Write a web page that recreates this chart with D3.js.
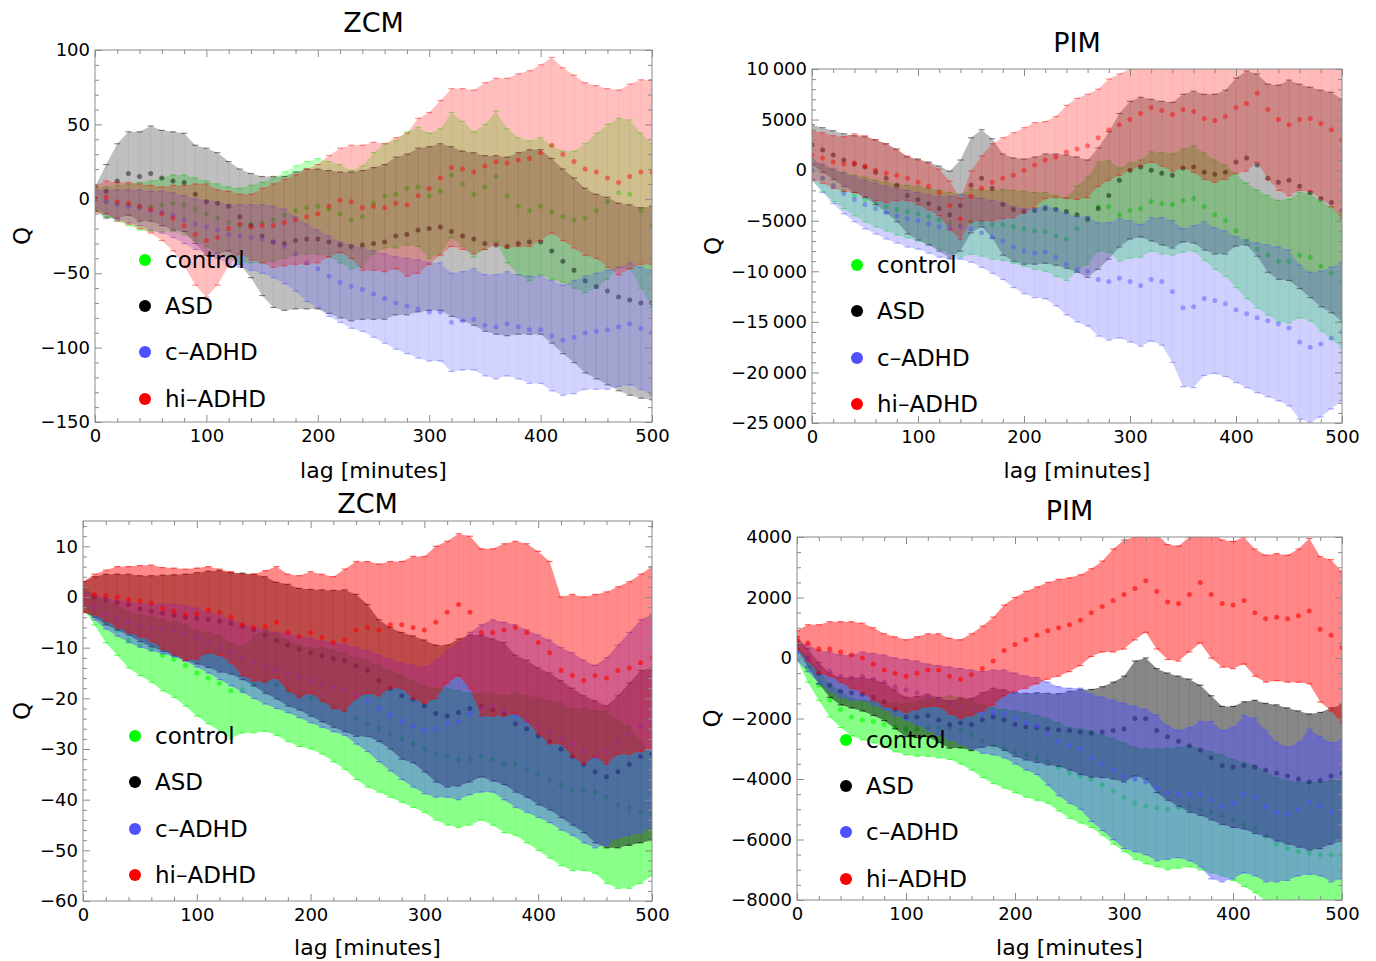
<!DOCTYPE html>
<html>
<head>
<meta charset="utf-8">
<script src="https://cdn.jsdelivr.net/npm/d3@7"></script>
<style>
  body { margin: 0; background: #fff; }
  text { font-family: "DejaVu Sans", sans-serif; }
</style>
</head>
<body>
<svg id="chart" width="1376" height="961"></svg>
<script>
// lag grid in minutes
const lags = d3.range(0, 501, 10);
const groups = ["control", "ASD", "c\u2013ADHD", "hi\u2013ADHD"];
const groupColors = ["#00ff00", "#000000", "#5050ff", "#ff0000"];

// ---- ZCM, upper panel ----
const zcm1ControlMean = [0,-2,-3,-4,-5,-5,-4,-3,-4,-7, -10,-13,-16,-18,-17,-16,-14,-11,-8,-6, -5,-7,-10,-14,-12,-3,2,3,7,8, 2,5,16,10,3,8,15,2,-5,-8, -5,-9,-12,-14,-13,-8,-2,4,3,-8, -18];
const zcm1ControlErr = [8,10,12,14,16,17,18,19,20,21, 22,23,24,25,26,27,28,29,30,31, 32,32,33,33,34,34,35,36,38,40, 42,42,42,42,42,42,44,45,46,47, 46,45,44,46,50,52,52,50,50,52, 55];
const zcm1AsdMean = [0,5,12,17,15,17,14,12,11,3, -2,-3,-5,-12,-18,-25,-29,-30,-28,-27, -27,-29,-31,-32,-31,-30,-29,-25,-24,-21, -20,-19,-22,-25,-27,-30,-31,-32,-30,-29, -29,-35,-42,-48,-55,-59,-62,-66,-68,-70, -70];
const zcm1AsdErr = [8,18,25,28,30,32,32,33,33,33, 36,34,30,32,35,40,44,45,46,47, 47,48,49,50,50,51,52,53,54,55, 55,56,57,57,58,59,60,60,61,62, 62,62,62,62,62,62,63,63,64,64, 65];
const zcm1CAdhdMean = [0,-2,-4,-5,-6,-8,-9,-11,-14,-17, -19,-21,-24,-25,-26,-27,-29,-32,-37,-43, -47,-52,-56,-59,-61,-64,-67,-70,-72,-74, -76,-76,-83,-82,-81,-85,-86,-84,-86,-88, -88,-92,-95,-93,-90,-89,-88,-86,-84,-87, -90];
const zcm1CAdhdErr = [6,8,10,11,12,13,14,15,16,17, 18,19,20,21,22,23,24,25,25,26, 26,27,27,28,28,29,30,31,32,33, 33,33,33,33,34,34,35,35,35,36, 36,37,37,38,38,39,40,40,41,41, 42];
const zcm1HiAdhdMean = [0,1,-2,-3,-5,-7,-10,-13,-18,-24, -28,-26,-20,-17,-19,-18,-18,-16,-14,-12, -10,-5,-1,-2,-6,-5,-6,-3,-4,2, 7,14,21,20,18,22,25,24,26,27, 31,36,30,25,20,18,14,11,15,18, 18];
const zcm1HiAdhdErr = [9,11,13,14,15,16,18,22,27,34, 38,32,25,20,22,25,28,29,30,32, 33,34,35,38,42,43,43,44,48,52, 51,52,53,54,55,56,56,57,58,59, 59,59,58,58,58,58,60,62,62,62, 62];

// ---- PIM, upper panel ----
const pim1ControlMean = [0,-800,-1500,-2000,-2500,-2900,-3300,-3600,-3900,-4100, -4300,-4600,-4900,-5200,-5500,-5100,-5200,-5400,-5400,-5600, -5800,-6000,-6100,-6500,-6800,-5800,-5000,-3600,-3600,-4400, -4000,-3800,-3100,-3300,-3400,-3000,-2800,-3600,-4400,-5000, -6000,-7000,-7800,-8400,-9000,-9000,-8400,-8600,-9500,-10200, -11000];
const pim1ControlErr = [1000,1300,1600,1800,2000,2200,2300,2400,2500,2600, 2700,2800,2900,3000,3100,3200,3300,3400,3500,3600, 3700,3800,3900,4000,4100,4200,4300,4400,4500,4600, 4700,4800,4900,5000,5000,5100,5200,5300,5400,5500, 5600,5700,5800,5900,6000,6100,6200,6300,6400,6500, 6600];
const pim1AsdMean = [2500,2000,1500,1000,600,300,-200,-800,-1500,-2500, -2900,-3300,-3800,-4400,-3500,-1500,-800,-1800,-3400,-3900, -4100,-4000,-3800,-3900,-4100,-4400,-4800,-3800,-2500,-1000, 0,300,0,-300,-500,200,300,-200,-400,-200, 800,1200,500,-800,-1200,-1000,-1600,-2200,-2800,-3200, -4000];
const pim1AsdErr = [2000,2200,2400,2600,2800,3000,3200,3400,3600,3800, 4000,4100,4200,4300,4500,4700,4800,4900,5000,5100, 5200,5300,5400,5500,5600,5700,5800,6000,6300,6600, 6800,6900,7000,7100,7200,7300,7500,7700,7900,8100, 8300,8600,9000,9300,9600,9900,10100,10400,10700,10900, 11000];
const pim1CAdhdMean = [0,-800,-1600,-2300,-2900,-3400,-3800,-4200,-4500,-4800, -5000,-5300,-5600,-5700,-5600,-5800,-6200,-6600,-7000,-7600, -8000,-8200,-8100,-8600,-9300,-9800,-10000,-10800,-11000,-10700, -11000,-11400,-10800,-11000,-12000,-13600,-13500,-12700,-12900,-13200, -13800,-14200,-14600,-14900,-15200,-15600,-17000,-17500,-17200,-16600, -16000];
const pim1CAdhdErr = [1000,1400,1700,2000,2200,2400,2500,2600,2700,2800, 2800,2900,3000,3100,3200,3300,3400,3600,3800,4000, 4200,4400,4600,4800,5000,5200,5400,5600,5800,5900, 6000,6000,6100,6300,7000,7800,8000,7600,7200,7200, 7200,7300,7400,7500,7600,7700,7600,7400,7200,7000, 6800];
const pim1HiAdhdMean = [1500,1200,800,600,700,400,0,-300,-500,-800, -1200,-1600,-2200,-3500,-4800,-2600,-1800,-1200,-800,-500, 0,500,1000,1300,1800,2100,2400,3200,4000,4500, 5000,5600,6200,5900,5500,6000,5800,5100,4900,5300, 6200,6600,7600,6000,5000,4500,5000,5100,4600,4000, 3000];
const pim1HiAdhdErr = [2400,2500,2600,2700,2900,3000,3000,2900,2500,2200, 2200,2300,2300,2400,2000,2500,3200,3800,4000,4200, 4200,4200,3800,4000,4600,5000,5100,4800,5000,5000, 5000,5200,5400,5500,5600,5800,6000,6000,6100,6200, 6500,6700,6800,6900,7000,7000,7000,7200,7400,7600, 7800];

// ---- ZCM, lower panel ----
const zcm2ControlMean = [0,-2.5,-5,-6.5,-8.5,-9.5,-10.3,-11.5,-12.3,-13.5, -15,-16,-17,-18.5,-18.3,-17.3,-16.5,-17.3,-18.5,-19.5, -20,-20.5,-21.5,-22.5,-24,-25,-26,-27,-28,-29, -30,-31,-31.5,-32,-32,-31.5,-32,-33,-33,-34, -35,-36,-37,-38,-38,-38.5,-39.5,-41,-41.5,-42.5, -43];
const zcm2ControlErr = [2,3,4,5,5.5,6,6.5,7,7.5,8, 8.5,9,9.5,9.5,8.5,9.5,10,10,10,10, 10,10.5,11,11.5,12,12.5,12.5,12.5,12.5,12.5, 12.5,13,13.5,13.5,13,12.5,13,13.5,14,14.5, 15,15.5,16,16,16,16,17,16.5,16,14, 12];
const zcm2AsdMean = [0,0,-0.5,-1,-1.5,-2.3,-2.8,-3.2,-3.6,-4, -4.2,-4.4,-4.8,-5.2,-5.8,-6.5,-7.5,-8.6,-9.5,-10.3, -11,-11.6,-12.2,-12.6,-13.5,-14.5,-16.5,-18,-19.5,-20.2, -21.5,-23,-23.5,-22.8,-22,-21.5,-22.3,-23,-25,-26, -27.5,-28.5,-30,-31.5,-33,-34.5,-35.5,-34.5,-33,-31.5, -31];
const zcm2AsdErr = [3,4,5,5.5,6,6.5,7,7.5,8,8.5, 9,9.5,10,10,10.5,11,11.5,11.5,12,12, 12.5,13,13.5,14,14,13,12,12,12.5,12.5, 13,13.5,14,14.5,14.5,14,14,14,13.5,13.5, 13.5,13.5,13.5,13.5,13.5,14,14,15,16,17, 17];
const zcm2CAdhdMean = [0,-2,-3.3,-4.2,-5,-5.6,-6,-6.3,-6.6,-7.2, -8,-9,-10,-11,-12,-13,-13.8,-14.5,-15,-15.8, -16.5,-17.2,-17.8,-18.3,-19.5,-20.5,-22,-23.3,-24.5,-25.5, -26.3,-26,-25,-24.5,-23,-22,-21.5,-22.5,-23.5,-24.5, -25.5,-26.5,-28,-29,-30.5,-31.5,-30.5,-28.5,-27,-25.5, -24.5];
const zcm2CAdhdErr = [1.5,2.5,3,3.5,4,4.3,4.6,4.9,5.2,5.5, 5.8,6,6.3,6.5,6.8,7,7.3,7.5,7.8,8, 8.3,8.5,8.8,9,9.5,10,10.5,11,11.5,12, 12.5,13.5,14.5,15.5,16,16.5,17,17.5,18,18, 18,18,18,18,18,18,18.5,19,20,21, 21];
const zcm2HiAdhdMean = [0,0.5,0.3,0,-0.5,-0.8,-1.2,-2.2,-2.8,-3.5, -3.3,-2.5,-3,-4,-5.5,-6,-5.8,-5,-7,-7.8, -7,-8,-9,-8.5,-6.5,-6,-6.5,-5.5,-5.5,-6, -6.5,-5,-3,-1.5,-3,-7,-7,-6.5,-6,-7, -9,-11,-14.5,-15.5,-16.5,-15.5,-16,-14.5,-14,-13, -12];
const zcm2HiAdhdErr = [3,4,5,6,6.5,7,7.5,8,8.5,9, 9,8.5,8.5,9,10,10.5,11,11,11.5,12, 12,12.5,13,14,13.5,13,13,12.5,12.5,14, 14.5,15,14,14,15,16.5,16.5,17,17,17.5, 18,18,14.5,16,16.5,16,17,16.5,17,17.5, 18];

// ---- PIM, lower panel ----
const pim2ControlMean = [200,-400,-900,-1400,-1700,-1950,-2050,-2100,-2200,-2300, -2350,-2350,-2300,-2300,-2300,-2400,-2550,-2750,-2900,-3000, -3100,-3200,-3300,-3400,-3600,-3800,-3900,-4000,-4200,-4400, -4600,-4800,-4900,-4950,-5000,-4950,-4900,-5000,-5100,-5200, -5350,-5500,-5650,-5900,-6150,-6300,-6400,-6450,-6500,-6500, -6500];
const pim2ControlErr = [250,400,500,550,600,620,650,700,750,800, 850,900,950,1000,1050,1100,1150,1200,1250,1300, 1350,1400,1400,1400,1450,1500,1550,1600,1650,1750, 1800,1850,1900,1950,2000,2000,2000,2000,2000,2000, 2000,2050,2100,2150,2200,2250,2300,2350,2400,2450, 2500];
const pim2AsdMean = [500,0,-500,-900,-1100,-1150,-1200,-1300,-1450,-1700, -1950,-1950,-1900,-2050,-2200,-2150,-2200,-2050,-1950,-2050, -2200,-2270,-2300,-2350,-2380,-2400,-2450,-2490,-2450,-2400, -2350,-2000,-2000,-2400,-2600,-2750,-2900,-3050,-3300,-3550, -3600,-3550,-3600,-3700,-3800,-3900,-4000,-4100,-4050,-3900, -3800];
const pim2AsdErr = [200,300,350,400,450,500,550,600,620,640, 650,680,700,740,780,820,860,900,950,1000, 1050,1100,1150,1180,1200,1300,1400,1450,1500,1600, 1750,1900,2000,2050,2100,2150,2200,2150,2050,1950, 2000,2100,2200,2200,2250,2250,2250,2250,2250,2250, 2250];
const pim2CAdhdMean = [200,0,-300,-450,-600,-650,-600,-700,-800,-950, -1050,-1150,-1300,-1400,-1500,-1600,-1700,-1800,-1800,-1850, -2000,-2150,-2250,-2500,-2750,-2900,-3000,-3300,-3500,-3700, -3900,-4000,-4100,-4300,-4450,-4500,-4500,-4500,-4700,-4900, -4800,-4500,-4600,-4900,-5100,-5150,-5000,-4750,-4900,-5100, -5000];
const pim2CAdhdErr = [300,450,550,650,700,750,800,850,900,950, 1000,1050,1100,1150,1200,1250,1300,1350,1400,1450, 1500,1550,1600,1700,1800,1900,2000,2100,2200,2300, 2400,2400,2400,2400,2200,2100,2200,2400,2600,2500, 2500,2600,2600,2500,2300,2200,2200,2400,2300,2300, 2300];
const pim2HiAdhdMean = [600,500,300,300,200,100,0,-200,-400,-500, -600,-500,-400,-400,-600,-700,-550,-350,-100,250, 450,600,750,900,1000,1100,1250,1500,1700,1900, 2100,2300,2550,2200,1850,1800,2100,2500,2100,1800, 1750,1900,1500,1300,1350,1300,1400,1550,950,750, 350];
const pim2HiAdhdErr = [300,600,800,900,1000,1100,1150,1200,1200,1200, 1200,1200,1200,1200,1250,1300,1350,1400,1450,1500, 1550,1600,1600,1600,1600,1550,1500,1450,1500,1700, 1800,1700,1700,1900,1900,1900,1900,2000,2100,2100, 2100,2100,2100,2100,2100,2100,2200,2400,2400,2500, 2500];

// x ticks shared by all panels
const xMajorTicks = [0, 100, 200, 300, 400, 500];
const xMinorStep = 20;

const panels = [
  { title: "ZCM", box: [95, 50, 652, 422], yDomain: [-150, 100], yMajor: 50, yMinor: 10,
    titleY: 22, xLabelY: 470, yLabelX: 22,
    means: [zcm1ControlMean, zcm1AsdMean, zcm1CAdhdMean, zcm1HiAdhdMean],
    errs: [zcm1ControlErr, zcm1AsdErr, zcm1CAdhdErr, zcm1HiAdhdErr],
    fillOpacity: 0.25, markOpacity: 0.45, legendX: 145, legendY: [260, 306, 352, 399] },
  { title: "PIM", box: [812, 69, 1342, 423], yDomain: [-25000, 10000], yMajor: 5000, yMinor: 1000,
    titleY: 42, xLabelY: 470, yLabelX: 713,
    means: [pim1ControlMean, pim1AsdMean, pim1CAdhdMean, pim1HiAdhdMean],
    errs: [pim1ControlErr, pim1AsdErr, pim1CAdhdErr, pim1HiAdhdErr],
    fillOpacity: 0.27, markOpacity: 0.45, legendX: 857, legendY: [265, 311, 358, 404] },
  { title: "ZCM", box: [83, 521, 652, 901], yDomain: [-60, 15], yMajor: 10, yMinor: 2,
    titleY: 503, xLabelY: 947, yLabelX: 22,
    means: [zcm2ControlMean, zcm2AsdMean, zcm2CAdhdMean, zcm2HiAdhdMean],
    errs: [zcm2ControlErr, zcm2AsdErr, zcm2CAdhdErr, zcm2HiAdhdErr],
    fillOpacity: 0.46, markOpacity: 0.6, legendX: 135, legendY: [736, 782, 829, 875] },
  { title: "PIM", box: [797, 537, 1342, 900], yDomain: [-8000, 4000], yMajor: 2000, yMinor: 500,
    titleY: 510, xLabelY: 947, yLabelX: 712,
    means: [pim2ControlMean, pim2AsdMean, pim2CAdhdMean, pim2HiAdhdMean],
    errs: [pim2ControlErr, pim2AsdErr, pim2CAdhdErr, pim2HiAdhdErr],
    fillOpacity: 0.47, markOpacity: 0.6, legendX: 846, legendY: [740, 786, 832, 879] }
];

function formatTick(v) {
  const a = Math.abs(v);
  const body = a >= 10000 ? d3.format(",")(a).replace(/,/g, "\u2009") : String(a);
  return (v < 0 ? "\u2212" : "") + body;
}

const svg = d3.select("#chart");
svg.append("rect").attr("width", 1376).attr("height", 961).attr("fill", "#fff");
const defs = svg.append("defs");
const frameColor = "#8a8a8a";

panels.forEach((p, pi) => {
  const [left, top, right, bottom] = p.box;
  const x = d3.scaleLinear().domain([0, 500]).range([left, right]);
  const y = d3.scaleLinear().domain(p.yDomain).range([bottom, top]);
  const cx = (left + right) / 2, cy = (top + bottom) / 2;

  defs.append("clipPath").attr("id", "plotclip" + pi)
    .append("rect").attr("x", left).attr("y", top)
    .attr("width", right - left).attr("height", bottom - top);

  const plot = svg.append("g").attr("clip-path", `url(#plotclip${pi})`);

  p.means.forEach((meanArr, si) => {
    const errArr = p.errs[si];
    const rows = lags.map((lag, i) => ({ lag, mean: meanArr[i], err: errArr[i] }));
    const col = groupColors[si];
    const s = plot.append("g");

    // shaded band spanned by the error bars
    s.append("path").datum(rows)
      .attr("d", d3.area()
        .x(d => x(d.lag))
        .y0(d => y(d.mean - d.err))
        .y1(d => y(d.mean + d.err)))
      .attr("fill", col).attr("fill-opacity", p.fillOpacity);

    // error bars with caps
    const bars = s.append("g").attr("stroke", col);
    bars.selectAll("line.v").data(rows).enter().append("line")
      .attr("x1", d => x(d.lag)).attr("x2", d => x(d.lag))
      .attr("y1", d => y(d.mean - d.err)).attr("y2", d => y(d.mean + d.err))
      .attr("stroke-opacity", p.markOpacity * 0.12).attr("stroke-width", 1);
    [1, -1].forEach(sign => {
      bars.selectAll(null).data(rows).enter().append("line")
        .attr("x1", d => x(d.lag) - 3).attr("x2", d => x(d.lag) + 3)
        .attr("y1", d => y(d.mean + sign * d.err)).attr("y2", d => y(d.mean + sign * d.err))
        .attr("stroke-opacity", p.markOpacity).attr("stroke-width", 1.2);
    });

    // mean points
    s.selectAll("circle").data(rows).enter().append("circle")
      .attr("cx", d => x(d.lag)).attr("cy", d => y(d.mean))
      .attr("r", 2.5).attr("fill", col).attr("fill-opacity", p.markOpacity);
  });

  // frame
  svg.append("rect").attr("x", left).attr("y", top)
    .attr("width", right - left).attr("height", bottom - top)
    .attr("fill", "none").attr("stroke", frameColor).attr("stroke-width", 1);

  const yMajorTicks = d3.range(p.yDomain[0], p.yDomain[1] + 1e-9, p.yMajor);
  const yMinorTicks = d3.range(p.yDomain[0], p.yDomain[1] + 1e-9, p.yMinor)
    .filter(v => !yMajorTicks.some(m => Math.abs(m - v) < 1e-9));
  const xMinorTicks = d3.range(0, 501, xMinorStep).filter(v => !xMajorTicks.includes(v));

  const styleAxis = (g, withLabels) => {
    g.select(".domain").remove();
    g.selectAll(".tick line").attr("stroke", frameColor);
    g.attr("font-family", null).attr("font-size", null);
    g.selectAll(".tick text").attr("fill", "#000").attr("font-size", 18)
      .style("font-family", "'DejaVu Sans', sans-serif");
    if (!withLabels) g.selectAll(".tick text").remove();
  };

  // bottom / top
  svg.append("g").attr("transform", `translate(0,${bottom})`)
    .call(d3.axisBottom(x).tickValues(xMajorTicks).tickSize(-7).tickPadding(7).tickFormat(formatTick))
    .call(g => styleAxis(g, true));
  svg.append("g").attr("transform", `translate(0,${bottom})`)
    .call(d3.axisBottom(x).tickValues(xMinorTicks).tickSize(-4).tickFormat(""))
    .call(g => styleAxis(g, false));
  svg.append("g").attr("transform", `translate(0,${top})`)
    .call(d3.axisTop(x).tickValues(xMajorTicks).tickSize(-7).tickFormat(""))
    .call(g => styleAxis(g, false));
  svg.append("g").attr("transform", `translate(0,${top})`)
    .call(d3.axisTop(x).tickValues(xMinorTicks).tickSize(-4).tickFormat(""))
    .call(g => styleAxis(g, false));

  // left / right
  svg.append("g").attr("transform", `translate(${left},0)`)
    .call(d3.axisLeft(y).tickValues(yMajorTicks).tickSize(-7).tickPadding(5).tickFormat(formatTick))
    .call(g => styleAxis(g, true));
  svg.append("g").attr("transform", `translate(${left},0)`)
    .call(d3.axisLeft(y).tickValues(yMinorTicks).tickSize(-4).tickFormat(""))
    .call(g => styleAxis(g, false));
  svg.append("g").attr("transform", `translate(${right},0)`)
    .call(d3.axisRight(y).tickValues(yMajorTicks).tickSize(-7).tickFormat(""))
    .call(g => styleAxis(g, false));
  svg.append("g").attr("transform", `translate(${right},0)`)
    .call(d3.axisRight(y).tickValues(yMinorTicks).tickSize(-4).tickFormat(""))
    .call(g => styleAxis(g, false));

  // titles and axis labels
  svg.append("text").attr("x", cx).attr("y", p.titleY)
    .attr("text-anchor", "middle").attr("dominant-baseline", "central")
    .attr("font-size", 27).attr("fill", "#000").text(p.title);
  svg.append("text").attr("x", cx).attr("y", p.xLabelY)
    .attr("text-anchor", "middle").attr("dominant-baseline", "central")
    .attr("font-size", 22).attr("fill", "#000").text("lag [minutes]");
  svg.append("text")
    .attr("transform", `translate(${p.yLabelX},${cy}) rotate(-90)`)
    .attr("text-anchor", "middle").attr("dominant-baseline", "central")
    .attr("font-size", 23).attr("fill", "#000").text("Q");

  // legend
  groups.forEach((name, gi) => {
    svg.append("circle").attr("cx", p.legendX).attr("cy", p.legendY[gi])
      .attr("r", 6).attr("fill", groupColors[gi]);
    svg.append("text").attr("x", p.legendX + 20).attr("y", p.legendY[gi])
      .attr("dominant-baseline", "central").attr("font-size", 23)
      .attr("fill", "#000").text(name);
  });
});
</script>
</body>
</html>
